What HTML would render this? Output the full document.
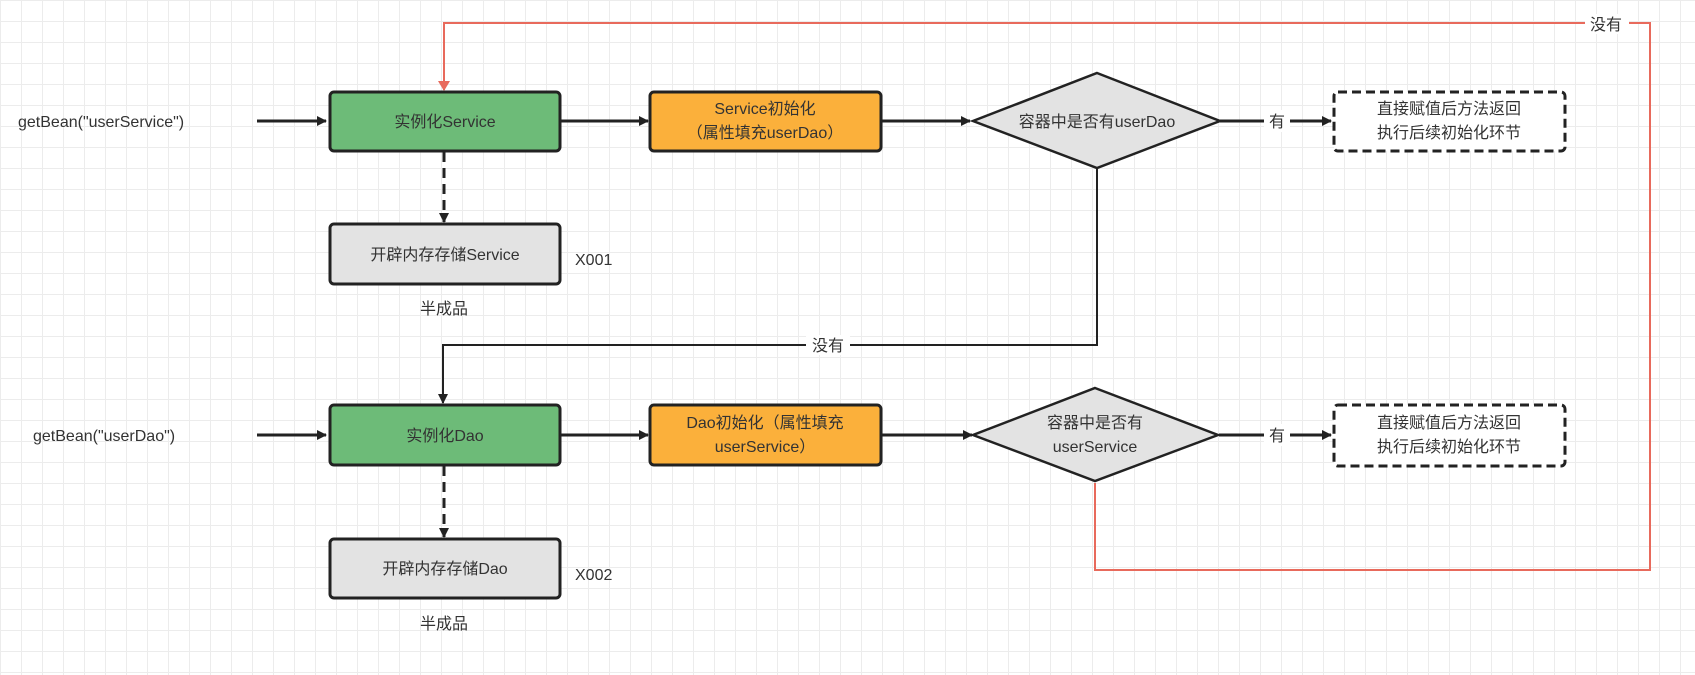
<!DOCTYPE html>
<html><head><meta charset="utf-8"><style>
html,body{margin:0;padding:0;}
body{width:1695px;height:675px;overflow:hidden;background:#fff;
background-image:linear-gradient(#ececec 1px,transparent 1px),linear-gradient(90deg,#ececec 1px,transparent 1px);
background-size:21px 21px;}
svg{position:absolute;left:0;top:0;}
text{font-family:"Liberation Sans","Noto Sans CJK SC",sans-serif;font-size:16px;fill:#333;}
</style></head><body>
<svg width="1695" height="675" viewBox="0 0 1695 675">
<defs>
<marker id="a" markerWidth="10" markerHeight="10" refX="9" refY="5" orient="auto" markerUnits="userSpaceOnUse"><path d="M0,0 L10,5 L0,10 Z" fill="#222"/></marker>
<marker id="r" markerWidth="10" markerHeight="12" refX="9" refY="6" orient="auto" markerUnits="userSpaceOnUse"><path d="M0,0 L10,6 L0,12 Z" fill="#e86a5c"/></marker>
</defs>
<g fill="none" stroke-width="2">
<!-- red loop -->
<polyline points="1095,483 1095,570 1650,570 1650,23 444,23 444,90" stroke="#e86a5c" marker-end="url(#r)"/>
<rect x="1585" y="14" width="44" height="20" fill="#fff" stroke="none"/>
<!-- row 1 arrows -->
<line x1="257" y1="121" x2="326" y2="121" stroke="#222" stroke-width="3" marker-end="url(#a)"/>
<line x1="561" y1="121" x2="648" y2="121" stroke="#222" stroke-width="3" marker-end="url(#a)"/>
<line x1="881" y1="121" x2="970" y2="121" stroke="#222" stroke-width="3" marker-end="url(#a)"/>
<line x1="1220" y1="121" x2="1331" y2="121" stroke="#222" stroke-width="3" marker-end="url(#a)"/>
<line x1="444" y1="152" x2="444" y2="222" stroke="#222" stroke-width="3" stroke-dasharray="10,6" marker-end="url(#a)"/>
<!-- down connection -->
<polyline points="1097,168 1097,345 443,345 443,403" stroke="#222" marker-end="url(#a)"/>
<!-- row 2 arrows -->
<line x1="257" y1="435" x2="326" y2="435" stroke="#222" stroke-width="3" marker-end="url(#a)"/>
<line x1="561" y1="435" x2="648" y2="435" stroke="#222" stroke-width="3" marker-end="url(#a)"/>
<line x1="881" y1="435" x2="972" y2="435" stroke="#222" stroke-width="3" marker-end="url(#a)"/>
<line x1="1219" y1="435" x2="1331" y2="435" stroke="#222" stroke-width="3" marker-end="url(#a)"/>
<line x1="444" y1="466" x2="444" y2="537" stroke="#222" stroke-width="3" stroke-dasharray="10,6" marker-end="url(#a)"/>
</g>
<!-- label backgrounds -->
<rect x="1264" y="110" width="26" height="22" fill="#fff"/>
<rect x="1264" y="424" width="26" height="22" fill="#fff"/>
<rect x="806" y="335" width="44" height="20" fill="#fff"/>
<!-- boxes -->
<g stroke="#222" stroke-width="3">
<rect x="330" y="92" width="230" height="59" rx="4" fill="#6dbb78"/>
<rect x="650" y="92" width="231" height="59" rx="4" fill="#fbb03b"/>
<polygon points="1097,73 1220,121 1097,168 973,121" fill="#e3e3e3" stroke-width="2.5"/>
<rect x="1334" y="92" width="231" height="59" rx="4" fill="#fff" stroke-dasharray="9,5"/>
<rect x="330" y="224" width="230" height="60" rx="4" fill="#e3e3e3"/>
<rect x="330" y="405" width="230" height="60" rx="4" fill="#6dbb78"/>
<rect x="650" y="405" width="231" height="60" rx="4" fill="#fbb03b"/>
<polygon points="1095,388 1218,435 1095,481 973,435" fill="#e3e3e3" stroke-width="2.5"/>
<rect x="1334" y="405" width="231" height="61" rx="4" fill="#fff" stroke-dasharray="9,5"/>
<rect x="330" y="539" width="230" height="59" rx="4" fill="#e3e3e3"/>
</g>
<!-- texts -->
<g text-anchor="middle">
<text x="445" y="127">实例化Service</text>
<text x="765" y="114">Service初始化</text>
<text x="765" y="138">（属性填充userDao）</text>
<text x="1097" y="127" font-size="15">容器中是否有userDao</text>
<text x="1277" y="127">有</text>
<text x="1449" y="114">直接赋值后方法返回</text>
<text x="1449" y="138">执行后续初始化环节</text>
<text x="445" y="260">开辟内存存储Service</text>
<text x="444" y="314">半成品</text>
<text x="828" y="351">没有</text>
<text x="1606" y="30">没有</text>
<text x="445" y="441">实例化Dao</text>
<text x="765" y="428">Dao初始化（属性填充</text>
<text x="765" y="452">userService）</text>
<text x="1095" y="428">容器中是否有</text>
<text x="1095" y="452">userService</text>
<text x="1277" y="441">有</text>
<text x="1449" y="428">直接赋值后方法返回</text>
<text x="1449" y="452">执行后续初始化环节</text>
<text x="445" y="574">开辟内存存储Dao</text>
<text x="444" y="629">半成品</text>
</g>
<text x="18" y="127">getBean("userService")</text>
<text x="33" y="441">getBean("userDao")</text>
<text x="575" y="265">X001</text>
<text x="575" y="580">X002</text>
</svg>
</body></html>
